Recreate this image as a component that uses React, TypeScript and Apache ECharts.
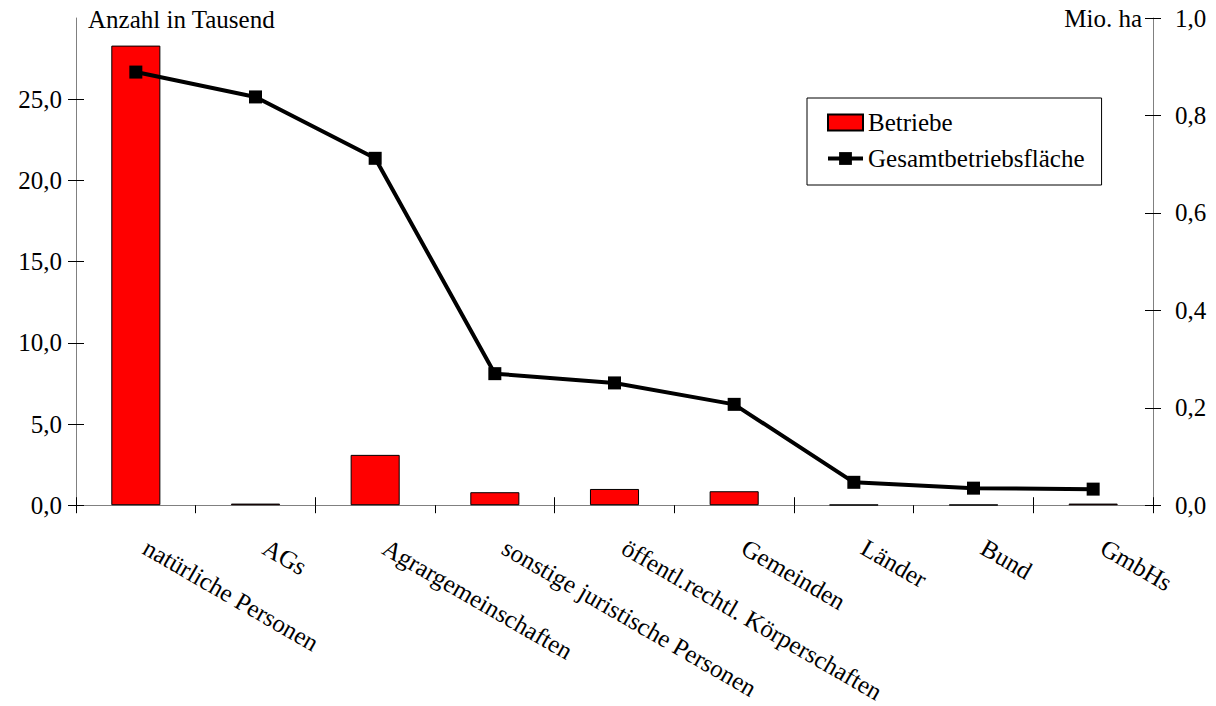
import React, { useEffect, useRef } from 'react';
import * as echarts from 'echarts';

const categories = [
  'natürliche Personen',
  'AGs',
  'Agrargemeinschaften',
  'sonstige juristische Personen',
  'öffentl.rechtl. Körperschaften',
  'Gemeinden',
  'Länder',
  'Bund',
  'GmbHs',
];
// Betriebe, Anzahl in Tausend
const betriebe = [28.3, 0.1, 3.1, 0.8, 1.0, 0.86, 0.03, 0.03, 0.1];
// Gesamtbetriebsfläche, Mio. ha
const flaeche = [0.889, 0.838, 0.712, 0.27, 0.251, 0.207, 0.047, 0.035, 0.033];
const leftTicks = [0, 5, 10, 15, 20, 25];
const rightTicks = [0, 0.2, 0.4, 0.6, 0.8, 1.0];

const FONT = '"Liberation Serif", "Times New Roman", serif';
const FS = 25;
const fmt = (v: number) => v.toFixed(1).replace('.', ',');

export default function App() {
  const ref = useRef<HTMLDivElement>(null);
  useEffect(() => {
    if (!ref.current) return;
    const chart = echarts.init(ref.current, null, { renderer: 'svg' });
    const tickStyle = { color: '#000', width: 1 };
    const axisLineStyle = { color: '#808080', width: 1 };
    chart.setOption({
      animation: false,
      backgroundColor: '#fff',
      textStyle: { fontFamily: FONT },
      grid: { left: 76, right: 63, top: 18, bottom: 198, containLabel: false },
      legend: {
        orient: 'vertical',
        left: 807,
        top: 98,
        padding: [12, 17, 14, 19],
        itemGap: 11,
        itemWidth: 35,
        itemHeight: 16,
        borderColor: '#000',
        borderWidth: 1,
        textStyle: { fontSize: FS, color: '#000', fontFamily: FONT },
        lineStyle: { width: 4, color: '#000' },
        data: [
          { name: 'Betriebe', icon: 'rect' },
          { name: 'Gesamtbetriebsfläche', lineStyle: { width: 4, color: '#000' } },
        ],
      },
      graphic: [
        {
          type: 'text',
          x: 88,
          y: 19,
          style: { text: 'Anzahl in Tausend', fontSize: FS, fontFamily: FONT, fill: '#000', align: 'left', verticalAlign: 'middle' },
        },
        {
          type: 'text',
          x: 1142,
          y: 18,
          style: { text: 'Mio. ha', fontSize: FS, fontFamily: FONT, fill: '#000', align: 'right', verticalAlign: 'middle' },
        },
      ],
      xAxis: [
        {
          type: 'category',
          data: categories,
          boundaryGap: true,
          axisLine: { show: true, lineStyle: axisLineStyle },
          axisTick: { show: true, length: 8, lineStyle: tickStyle },
          axisLabel: {
            rotate: -30,
            margin: 35,
            padding: [0, 0, 0, 11],
            fontSize: FS,
            color: '#000',
            fontFamily: FONT,
            interval: 0,
          },
          splitLine: { show: false },
        },
        {
          type: 'category',
          data: categories,
          position: 'bottom',
          boundaryGap: true,
          axisLine: { show: false },
          axisTick: { show: true, inside: true, length: 8, lineStyle: tickStyle },
          axisLabel: { show: false },
          splitLine: { show: false },
        },
      ],
      yAxis: [
        {
          type: 'value',
          position: 'left',
          min: 0,
          max: 30,
          interval: 5,
          axisLine: { show: true, lineStyle: axisLineStyle },
          axisTick: { show: true, length: 8, customValues: leftTicks, lineStyle: tickStyle },
          axisLabel: { customValues: leftTicks, formatter: fmt, margin: 14, fontSize: FS, color: '#000', fontFamily: FONT },
          splitLine: { show: false },
        },
        {
          type: 'value',
          position: 'right',
          min: 0,
          max: 1,
          interval: 0.2,
          axisLine: { show: true, lineStyle: axisLineStyle },
          axisTick: { show: true, length: 8, customValues: rightTicks, lineStyle: tickStyle },
          axisLabel: { customValues: rightTicks, formatter: fmt, margin: 22, fontSize: FS, color: '#000', fontFamily: FONT },
          splitLine: { show: false },
        },
        {
          type: 'value',
          position: 'left',
          min: 0,
          max: 30,
          interval: 5,
          axisLine: { show: false },
          axisTick: { show: true, inside: true, length: 8, customValues: leftTicks, lineStyle: tickStyle },
          axisLabel: { show: false },
          splitLine: { show: false },
        },
        {
          type: 'value',
          position: 'right',
          min: 0,
          max: 1,
          interval: 0.2,
          axisLine: { show: false },
          axisTick: { show: true, inside: true, length: 8, customValues: rightTicks, lineStyle: tickStyle },
          axisLabel: { show: false },
          splitLine: { show: false },
        },
      ],
      series: [
        {
          name: 'Betriebe',
          type: 'bar',
          xAxisIndex: 0,
          yAxisIndex: 0,
          barWidth: '41%',
          data: betriebe,
          itemStyle: { color: '#FF0000', borderColor: '#000', borderWidth: 1 },
        },
        {
          name: 'Gesamtbetriebsfläche',
          type: 'line',
          xAxisIndex: 0,
          yAxisIndex: 1,
          data: flaeche,
          symbol: 'rect',
          symbolSize: 13,
          lineStyle: { color: '#000', width: 4 },
          itemStyle: { color: '#000' },
        },
      ],
    });
    return () => chart.dispose();
  }, []);
  return <div ref={ref} style={{ position: 'fixed', left: 0, top: 0, width: 1216, height: 706, background: '#fff' }} />;
}
